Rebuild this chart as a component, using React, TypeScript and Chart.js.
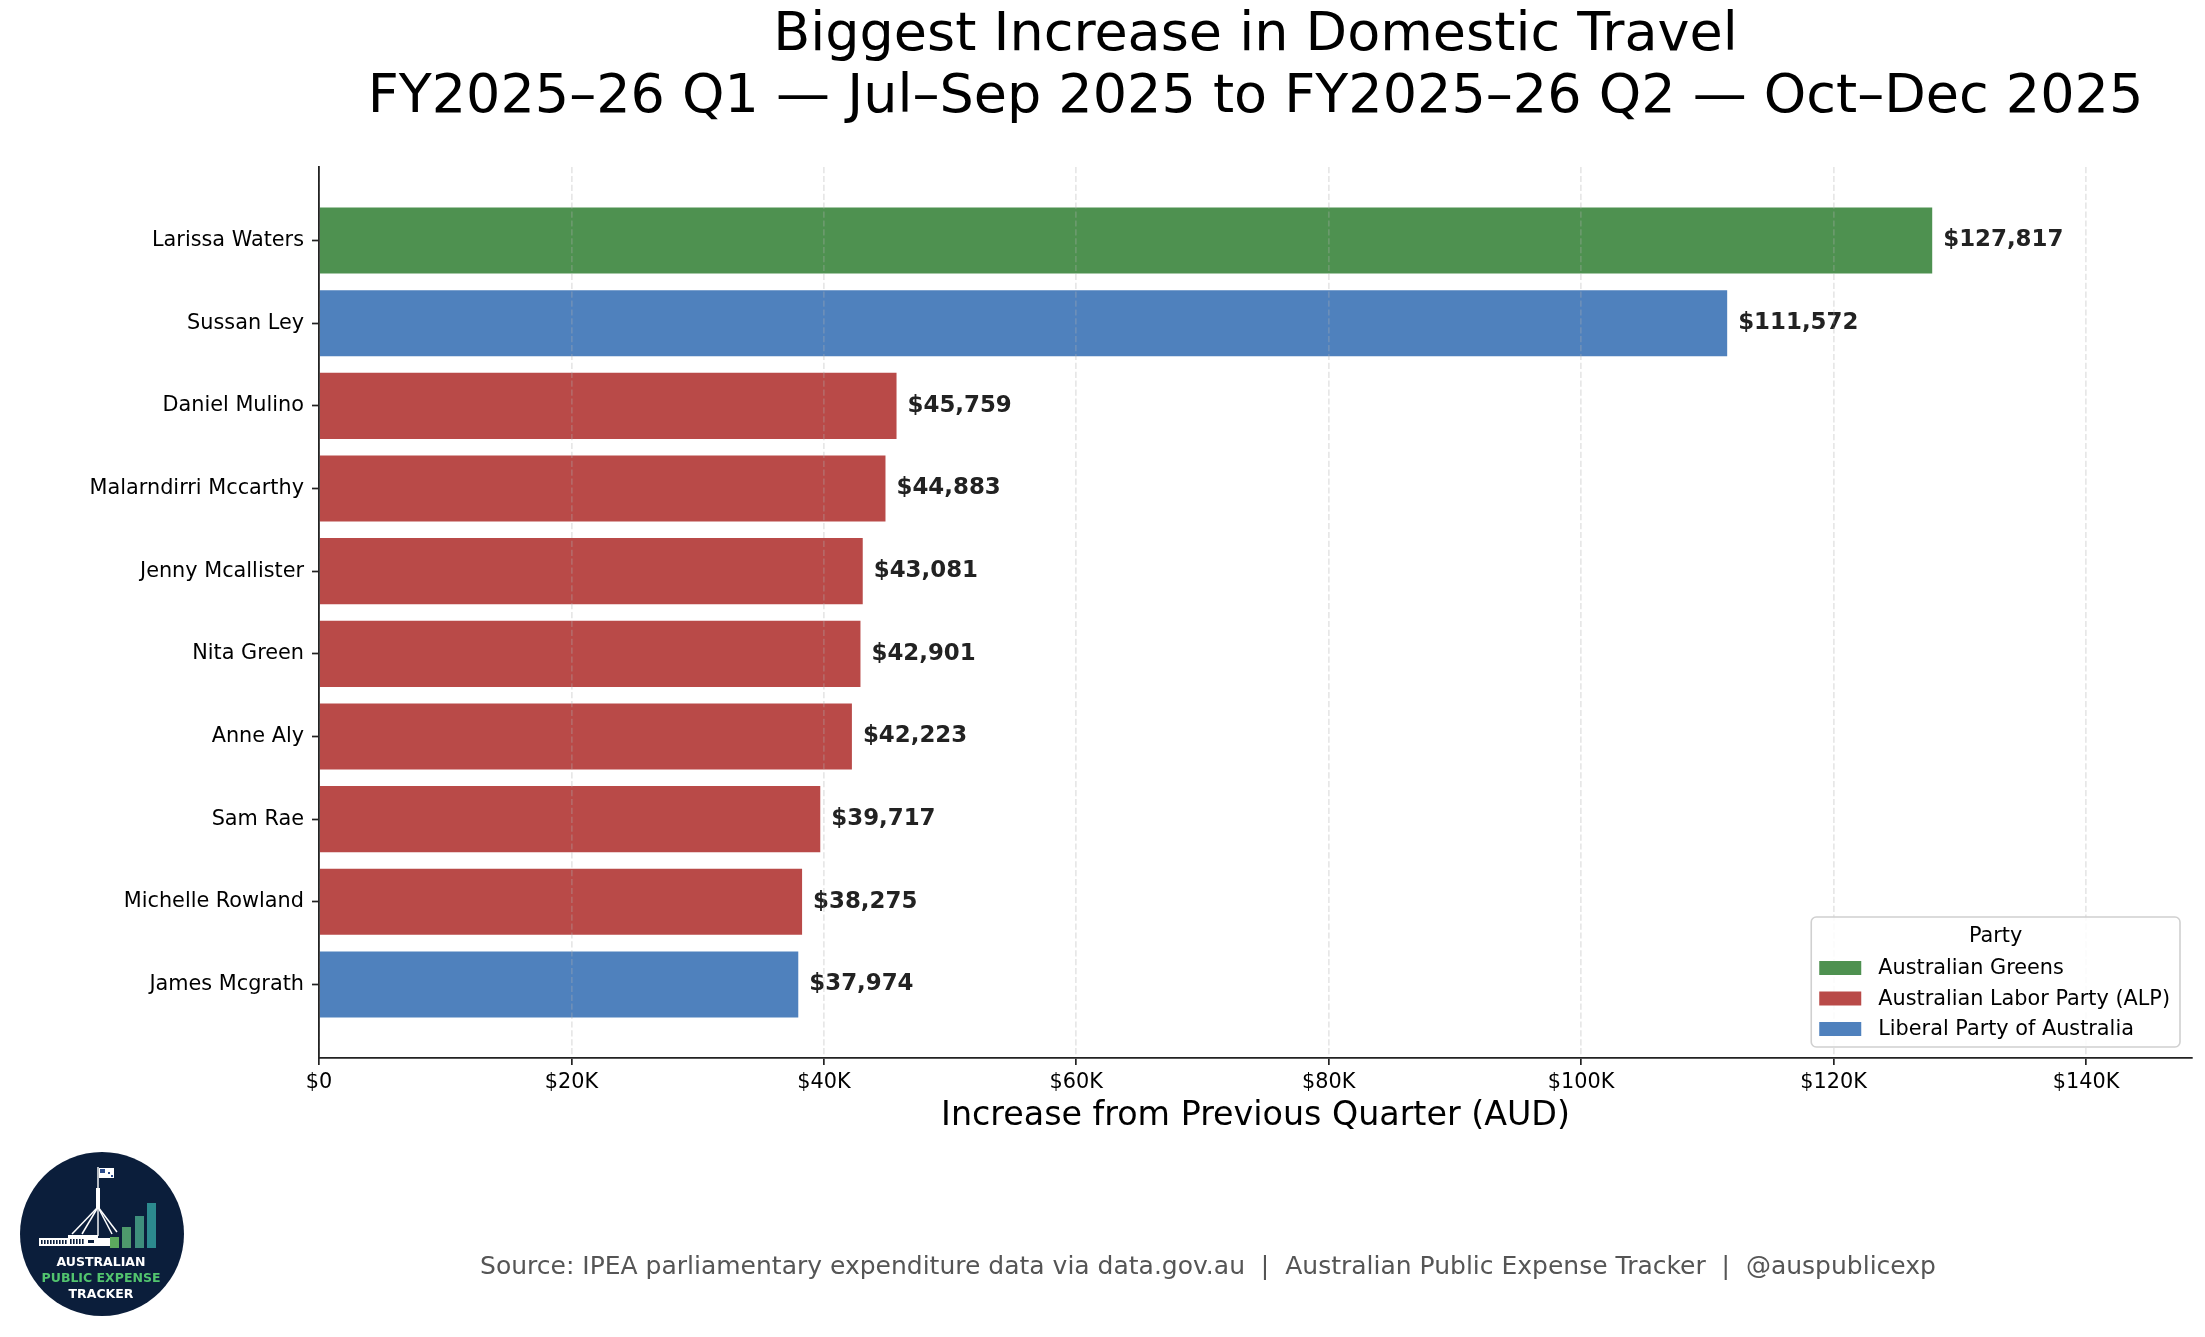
import React, { useEffect, useRef } from 'react';
import { Chart, registerables } from 'chart.js';

Chart.register(...registerables);

const FONT = '"DejaVu Sans", "Liberation Sans", sans-serif';

const titleLines = [
  'Biggest Increase in Domestic Travel',
  'FY2025–26 Q1 — Jul–Sep 2025 to FY2025–26 Q2 — Oct–Dec 2025',
];
const members = [
  'Larissa Waters',
  'Sussan Ley',
  'Daniel Mulino',
  'Malarndirri Mccarthy',
  'Jenny Mcallister',
  'Nita Green',
  'Anne Aly',
  'Sam Rae',
  'Michelle Rowland',
  'James Mcgrath',
];
const increases = [127817, 111572, 45759, 44883, 43081, 42901, 42223, 39717, 38275, 37974];
const memberParty = [
  'Australian Greens',
  'Liberal Party of Australia',
  'Australian Labor Party (ALP)',
  'Australian Labor Party (ALP)',
  'Australian Labor Party (ALP)',
  'Australian Labor Party (ALP)',
  'Australian Labor Party (ALP)',
  'Australian Labor Party (ALP)',
  'Australian Labor Party (ALP)',
  'Liberal Party of Australia',
];
const parties = ['Australian Greens', 'Australian Labor Party (ALP)', 'Liberal Party of Australia'];
const partyColors = ['#4E9150', '#B94A48', '#4F81BD'];
const xTicks = [0, 20000, 40000, 60000, 80000, 100000, 120000, 140000];
const sourceText =
  'Source: IPEA parliamentary expenditure data via data.gov.au  |  Australian Public Expense Tracker  |  @auspublicexp';

const colorOf = (party: string) => partyColors[parties.indexOf(party)];
const money = (v: number) => '$' + v.toLocaleString('en-US');

// value labels at the end of each bar
const barLabels = {
  id: 'barLabels',
  afterDatasetsDraw(chart: any) {
    const { ctx } = chart;
    const meta = chart.getDatasetMeta(0);
    ctx.save();
    ctx.font = `bold 22.9px ${FONT}`;
    ctx.fillStyle = '#222222';
    ctx.textAlign = 'left';
    ctx.textBaseline = 'middle';
    meta.data.forEach((bar: any, i: number) => {
      ctx.fillText(money(increases[i]), bar.x + 11, bar.y);
    });
    ctx.restore();
  },
};

// matplotlib-style legend in the lower right of the plot
const partyLegend = {
  id: 'partyLegend',
  afterDraw(chart: any) {
    const { ctx, chartArea } = chart;
    ctx.save();
    ctx.font = `20.8px ${FONT}`;
    const textW = Math.max(...parties.map((p) => ctx.measureText(p).width));
    const w = 8 + 42 + 17 + textW + 10;
    const h = 130;
    const right = chartArea.right - 12;
    const bottom = chartArea.bottom - 11;
    const left = right - w;
    const top = bottom - h;
    ctx.beginPath();
    ctx.roundRect(left, top, w, h, 5);
    ctx.fillStyle = 'rgba(255,255,255,0.85)';
    ctx.fill();
    ctx.strokeStyle = '#d0d0d0';
    ctx.lineWidth = 1.6;
    ctx.stroke();
    ctx.fillStyle = '#000';
    ctx.textAlign = 'center';
    ctx.textBaseline = 'middle';
    ctx.fillText('Party', left + w / 2, top + 20);
    ctx.textAlign = 'left';
    parties.forEach((p, i) => {
      const cy = top + 51 + i * 30.5;
      ctx.fillStyle = partyColors[i];
      ctx.fillRect(left + 8, cy - 7, 42, 14);
      ctx.fillStyle = '#000';
      ctx.fillText(p, left + 67, cy + 1);
    });
    ctx.restore();
  },
};

function drawLogo(ctx: CanvasRenderingContext2D) {
  const cx = 102;
  const cy = 1234;
  const navy = '#0B1E3B';
  ctx.save();
  ctx.beginPath();
  ctx.arc(cx, cy, 82, 0, Math.PI * 2);
  ctx.fillStyle = navy;
  ctx.fill();

  // parliament house
  ctx.fillStyle = '#ffffff';
  ctx.fillRect(39, 1238, 72, 8);
  ctx.fillRect(68, 1235, 30, 3);
  ctx.fillStyle = navy;
  for (let x = 41; x < 66; x += 3) ctx.fillRect(x, 1240, 1.6, 4);
  for (let x = 70; x < 84; x += 3) ctx.fillRect(x, 1239, 1.6, 5);
  ctx.fillRect(88, 1240, 6, 3);

  // flag mast
  ctx.strokeStyle = '#ffffff';
  ctx.lineWidth = 1.4;
  ctx.beginPath();
  ctx.moveTo(98, 1167);
  ctx.lineTo(98, 1236);
  ctx.stroke();
  ctx.fillStyle = '#ffffff';
  ctx.fillRect(96, 1188, 4, 20);
  ctx.lineWidth = 1.5;
  [
    [72, 1234],
    [82, 1234],
    [112, 1234],
    [117, 1232],
  ].forEach(([x, y]) => {
    ctx.beginPath();
    ctx.moveTo(98, 1207);
    ctx.lineTo(x, y);
    ctx.stroke();
  });
  ctx.fillRect(99, 1168, 15, 10);
  ctx.fillStyle = '#2B4C8C';
  ctx.fillRect(100, 1169, 5, 4);
  ctx.fillRect(108, 1172, 2, 2);
  ctx.fillRect(111, 1175, 2, 2);

  // rising bars
  const bars = [
    [110, 1237, '#5CAA5E'],
    [122, 1227, '#4E9A6C'],
    [135, 1216, '#3E8F7C'],
    [147, 1203, '#2C8A8E'],
  ] as const;
  bars.forEach(([x, top, c]) => {
    ctx.fillStyle = c;
    ctx.fillRect(x, top, 9, 1248 - top);
  });

  // wordmark
  ctx.textAlign = 'center';
  ctx.textBaseline = 'middle';
  ctx.font = `bold 12.5px ${FONT}`;
  ctx.fillStyle = '#ffffff';
  ctx.fillText('AUSTRALIAN', 101, 1263);
  ctx.fillStyle = '#52C46E';
  ctx.fillText('PUBLIC EXPENSE', 101, 1279);
  ctx.fillStyle = '#ffffff';
  ctx.fillText('TRACKER', 101, 1295);
  ctx.restore();
}

// source line and logo below the axes
const footer = {
  id: 'footer',
  afterDraw(chart: any) {
    const { ctx } = chart;
    ctx.save();
    ctx.font = `25px ${FONT}`;
    ctx.fillStyle = '#555555';
    ctx.textAlign = 'center';
    ctx.textBaseline = 'alphabetic';
    ctx.fillText(sourceText, 1208, 1274);
    ctx.restore();
    drawLogo(ctx);
  },
};

const App: React.FC = () => {
  const canvasRef = useRef<HTMLCanvasElement>(null);

  useEffect(() => {
    if (!canvasRef.current) return;

    const chart = new Chart(canvasRef.current, {
      type: 'bar',
      data: {
        labels: members,
        datasets: [
          {
            label: 'Increase',
            data: increases.map((v, i) => ({ x: v, y: i })),
            backgroundColor: memberParty.map(colorOf),
            borderWidth: 0,
            barPercentage: 0.8,
            categoryPercentage: 1,
          },
        ],
      },
      options: {
        indexAxis: 'y',
        animation: false,
        responsive: false,
        devicePixelRatio: 1,
        layout: { padding: { top: 0, left: 0, right: 13, bottom: 197 } },
        plugins: {
          legend: { display: false },
          tooltip: { enabled: false },
          title: {
            display: true,
            text: titleLines,
            color: '#000',
            fullSize: false,
            font: { family: FONT, size: 54, weight: 'normal', lineHeight: 1.148 },
            padding: { top: 5.3, bottom: 37.7 },
          },
        },
        scales: {
          x: {
            type: 'linear',
            position: 'bottom',
            min: 0,
            max: 148400,
            afterBuildTicks: (scale: any) => {
              scale.ticks = xTicks.map((v) => ({ value: v }));
            },
            afterFit: (scale: any) => {
              scale.height = 82;
            },
            ticks: {
              color: '#000',
              padding: 5,
              font: { family: FONT, size: 20.8 },
              callback: (v: any) => (v === 0 ? '$0' : '$' + v / 1000 + 'K'),
            },
            grid: {
              z: 1,
              color: 'rgba(176,176,176,0.3)',
              lineWidth: 1.7,
              drawTicks: true,
              tickLength: 7,
              tickColor: '#222222',
              tickWidth: 1.7,
              tickBorderDash: [],
            },
            border: { display: true, z: 1, color: '#222222', width: 1.8, dash: [6.2, 2.7] },
            title: {
              display: true,
              text: 'Increase from Previous Quarter (AUD)',
              color: '#000',
              font: { family: FONT, size: 33.3 },
              padding: { top: 0, bottom: 4 },
            },
          },
          y: {
            type: 'linear',
            position: 'left',
            reverse: true,
            offset: false,
            min: -0.89,
            max: 9.89,
            afterBuildTicks: (scale: any) => {
              scale.ticks = members.map((_, i) => ({ value: i }));
            },
            afterFit: (scale: any) => {
              scale.width = 319;
            },
            ticks: {
              color: '#000',
              padding: 8,
              font: { family: FONT, size: 20.8 },
              callback: (v: any) => members[v as number] ?? '',
            },
            grid: {
              offset: false,
              drawOnChartArea: false,
              drawTicks: true,
              tickLength: 7,
              tickColor: '#222222',
              tickWidth: 1.7,
            },
            border: { display: true, z: 1, color: '#222222', width: 1.8 },
          },
        },
      },
      plugins: [barLabels, partyLegend, footer],
    } as any);

    return () => chart.destroy();
  }, []);

  return (
    <div style={{ position: 'absolute', left: 0, top: 0, width: 2205, height: 1337, background: '#fff' }}>
      <canvas ref={canvasRef} width={2205} height={1337} style={{ display: 'block' }} />
    </div>
  );
};

export default App;
